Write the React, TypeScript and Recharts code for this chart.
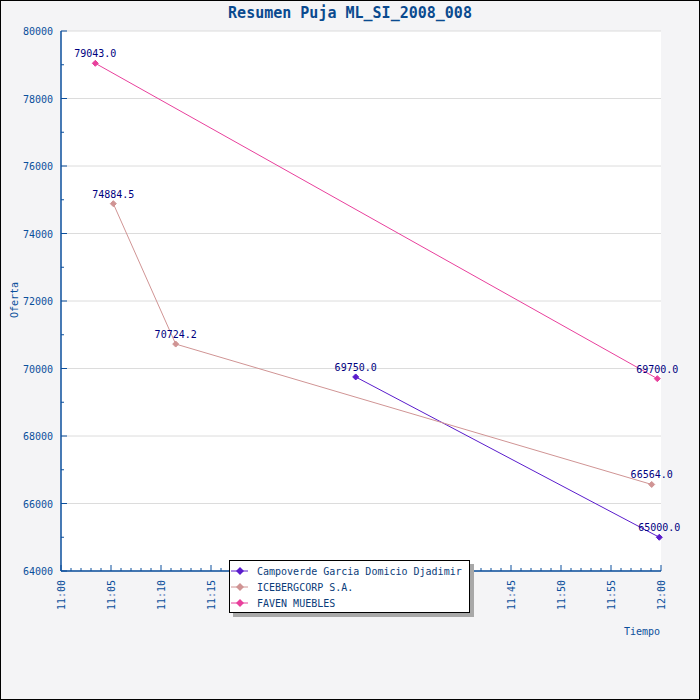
import React from 'react';
import { LineChart, Line, XAxis, YAxis, CartesianGrid, LabelList } from 'recharts';

// minutes after 11:00
const campoverdeTimes = [29.47, 59.83];
const campoverdeOffers = [69750.0, 65000.0];
const icebergTimes = [5.23, 11.47, 59.07];
const icebergOffers = [74884.5, 70724.2, 66564.0];
const favenTimes = [3.43, 59.63];
const favenOffers = [79043.0, 69700.0];

const seriesNames = ['Campoverde Garcia Domicio Djadimir', 'ICEBERGCORP S.A.', 'FAVEN MUEBLES'];
const seriesColors = ['#5a1ccc', '#d09494', '#e8409c'];

const timeLabels = ['11:00', '11:05', '11:10', '11:15', '11:20', '11:25', '11:30', '11:35', '11:40', '11:45', '11:50', '11:55', '12:00'];
const minuteTicks = Array.from({ length: 61 }, (_, i) => i);
const offerTicks = [64000, 65000, 66000, 67000, 68000, 69000, 70000, 71000, 72000, 73000, 74000, 75000, 76000, 77000, 78000, 79000, 80000];
const offerGrid = [64000, 66000, 68000, 70000, 72000, 74000, 76000, 78000, 80000];

const toPoints = (times: number[], offers: number[]) => times.map((t, i) => ({ t, v: offers[i] }));
const series = [
  toPoints(campoverdeTimes, campoverdeOffers),
  toPoints(icebergTimes, icebergOffers),
  toPoints(favenTimes, favenOffers),
];

const AXIS = '#0b4f9c';
const FONT = '"DejaVu Sans Mono", monospace';

const TimeTick = (props: any) => {
  const { x, y, payload } = props;
  const major = payload.value % 5 === 0;
  return (
    <g>
      <line x1={x} x2={x} y1={y} y2={y - (major ? 6 : 3)} stroke={AXIS} />
      {major && (
        <text transform={`translate(${x + 4},${y + 9}) rotate(-90)`} textAnchor="end" fill={AXIS} fontSize={10} fontFamily={FONT}>
          {timeLabels[payload.value / 5]}
        </text>
      )}
    </g>
  );
};

const OfferTick = (props: any) => {
  const { x, y, payload } = props;
  const major = payload.value % 2000 === 0;
  return (
    <g>
      <line x1={x} x2={x + (major ? 6 : 3)} y1={y} y2={y} stroke={AXIS} />
      {major && (
        <text x={x - 8} y={y + 4} textAnchor="end" fill={AXIS} fontSize={10} fontFamily={FONT}>
          {payload.value}
        </text>
      )}
    </g>
  );
};

const diamond = (color: string) => (props: any) => {
  const { cx, cy, index } = props;
  return <path key={index} d={`M${cx},${cy - 3}L${cx + 3},${cy}L${cx},${cy + 3}L${cx - 3},${cy}Z`} fill={color} stroke={color} />;
};

const ValueLabel = (props: any) => {
  const { x, y, value } = props;
  return (
    <text x={x} y={y - 6} textAnchor="middle" fill="#000080" fontSize={10} fontFamily={FONT}>
      {Number(value).toFixed(1)}
    </text>
  );
};

export default function App() {
  return (
    <div style={{ position: 'absolute', left: 0, top: 0, width: 700, height: 700, background: '#f4f4f6' }}>
      <style>{'body{margin:0}'}</style>
      <LineChart width={700} height={700} margin={{ top: 31, right: 39, bottom: 0, left: 0 }}>
        <CartesianGrid vertical={false} horizontalValues={offerGrid} stroke="#dcdcdc" fill="#ffffff" />
        <XAxis
          type="number"
          dataKey="t"
          domain={[0, 60]}
          ticks={minuteTicks}
          interval={0}
          height={129}
          tickSize={0}
          tickMargin={0}
          tick={<TimeTick />}
          axisLine={{ stroke: AXIS, strokeWidth: 1.5 }}
          allowDuplicatedCategory={false}
        />
        <YAxis
          type="number"
          dataKey="v"
          domain={[64000, 80000]}
          ticks={offerTicks}
          interval={0}
          width={61}
          tickSize={0}
          tickMargin={0}
          tick={<OfferTick />}
          axisLine={{ stroke: AXIS, strokeWidth: 1.5 }}
        />
        {series.map((pts, i) => (
          <Line
            key={seriesNames[i]}
            data={pts}
            dataKey="v"
            name={seriesNames[i]}
            type="linear"
            stroke={seriesColors[i]}
            strokeWidth={1}
            dot={diamond(seriesColors[i])}
            activeDot={false}
            isAnimationActive={false}
          >
            <LabelList dataKey="v" content={<ValueLabel />} />
          </Line>
        ))}
        <text x={350} y={18} textAnchor="middle" fill="#0a4a8f" fontSize={15} fontWeight="bold" fontFamily={FONT}>
          Resumen Puja ML_SI_2008_008
        </text>
        <text transform="translate(18,300) rotate(-90)" textAnchor="middle" fill={AXIS} fontSize={10} fontFamily={FONT}>
          Oferta
        </text>
        <text x={660} y={635} textAnchor="end" fill={AXIS} fontSize={10} fontFamily={FONT}>
          Tiempo
        </text>
      </LineChart>
      <div
        style={{
          position: 'absolute',
          left: 229,
          top: 560,
          width: 241,
          height: 53,
          boxSizing: 'border-box',
          border: '1px solid #000',
          background: '#fff',
          boxShadow: '4px 4px 0 #a8a8a8',
          fontFamily: FONT,
          fontSize: 10,
          color: '#0b3d7a',
        }}
      >
        {seriesNames.map((name, i) => (
          <div key={name} style={{ position: 'absolute', left: 1, top: 2 + i * 16, height: 16, display: 'flex', alignItems: 'center', whiteSpace: 'nowrap' }}>
            <svg width={18} height={16} style={{ display: 'block' }}>
              <line x1={0} x2={17} y1={8} y2={8} stroke={seriesColors[i]} />
              <path d="M9,4L13,8L9,12L5,8Z" fill={seriesColors[i]} />
            </svg>
            <span style={{ marginLeft: 8 }}>{name}</span>
          </div>
        ))}
      </div>
      <div style={{ position: 'absolute', left: 0, top: 0, width: 700, height: 700, boxSizing: 'border-box', border: '1px solid #000', pointerEvents: 'none' }} />
    </div>
  );
}
